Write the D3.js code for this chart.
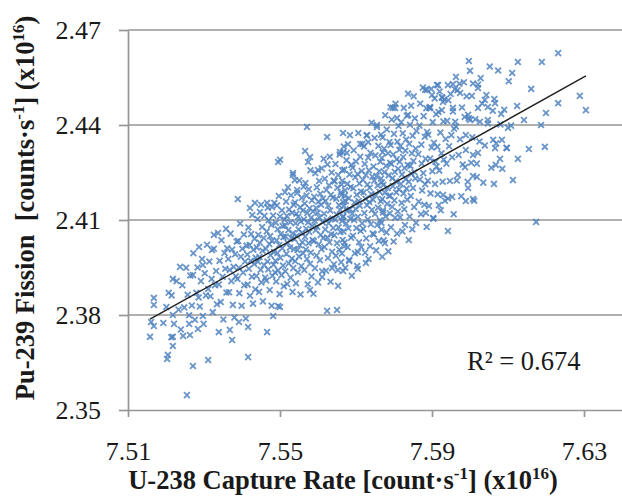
<!DOCTYPE html>
<html><head><meta charset="utf-8">
<script src="https://cdn.jsdelivr.net/npm/d3@7"></script>
<style>html,body{margin:0;padding:0;background:#fff;overflow:hidden}svg{display:block}</style>
</head><body>
<svg id="chart" width="622" height="502"></svg>
<script>
// ---------- data ----------
const xTicks = [7.51, 7.55, 7.59, 7.63];
const yTicks = [2.35, 2.38, 2.41, 2.44, 2.47];
const xDomain = [7.51, 7.65];
const yDomain = [2.35, 2.47];
const trendX = [7.5158, 7.6305];
const trendY = [2.3787, 2.4555];
const rSquaredLabel = "R\u00B2 = 0.674";
const xTitle = ["U-238 Capture Rate [count\u00B7s", "-1", "] (x10", "16", ")"];
const yTitle = ["Pu-239 Fission\u00A0 [counts\u00B7s", "-1", "] (x10", "16", ")"];

// individually readable (sparse) points
const sparsePoints = [
[7.5168,2.3854],[7.5168,2.3832],[7.5161,2.3778],[7.5168,2.3765],[7.5158,2.3731],[7.5218,2.3731],[7.5218,2.3702],[7.5205,2.3674],
[7.5203,2.3661],[7.5271,2.3639],[7.5311,2.3658],[7.5255,2.3547],[7.5416,2.3667],[7.5466,2.3746],[7.5374,2.3721],[7.5368,2.3753],
[7.5339,2.3746],[7.5416,2.3762],[7.5261,2.3772],[7.5284,2.3756],[7.5263,2.3737],[7.5245,2.3734],[7.5392,2.3778],[7.5482,2.3797],
[7.5297,2.3797],[7.5218,2.3800],[7.5495,2.3828],[7.5218,2.3914],[7.5287,2.4015],[7.5358,2.4072],[7.5326,2.4053],[7.5297,2.3958],
[7.5271,2.3926],[7.5321,2.4005],[7.5389,2.4166],[7.5495,2.4283],[7.5624,2.3813],[7.5650,2.3816],[7.5653,2.3892],[7.5611,2.3920],
[7.5637,2.3948],[7.5666,2.3939],[7.5682,2.3971],[7.5705,2.3945],[7.5726,2.3964],[7.5705,2.3999],[7.5776,2.4027],[7.5839,2.4037],
[7.5579,2.3879],[7.5500,2.3825],[7.5942,2.4065],[7.6174,2.4094],[7.6063,2.4214],[7.6113,2.4226],[7.5995,2.4201],[7.6008,2.4166],
[7.5989,2.4160],[7.5918,2.4147],[7.5953,2.4173],[7.5929,2.4179],[7.5884,2.4122],[7.5903,2.4106],[7.5571,2.4394],[7.5624,2.4362],
[7.5666,2.4375],[7.5684,2.4368],[7.5566,2.4318],[7.5579,2.4299],[7.5574,2.4283],[7.5534,2.4248],[7.5600,2.4258],[7.5711,2.4340],
[7.5729,2.4368],[7.5755,2.4400],[7.5732,2.4346],[7.5803,2.4454],[7.5887,2.4511],[7.5900,2.4495],[7.5895,2.4457],[7.5913,2.4526],
[7.5658,2.4315],[7.5676,2.4312],[7.5997,2.4602],[7.6126,2.4599],[7.6189,2.4599],[7.6232,2.4627],[7.6111,2.4564],[7.6161,2.4514],
[7.6289,2.4492],[7.6305,2.4447],[7.6232,2.4469],[7.6200,2.4438],[7.6124,2.4460],[7.6142,2.4416],[7.6187,2.4400],[7.6197,2.4331],
[7.6155,2.4324],[7.6126,2.4293],[7.6079,2.4293],[7.6100,2.4391],[7.6082,2.4435],[7.6021,2.4517],[7.5963,2.4552],[7.5882,2.4511],
[7.5916,2.4526],[7.5942,2.4526],[7.5955,2.4529],[7.5974,2.4501],[7.6005,2.4492],[7.6039,2.4479],[7.6066,2.4469],[7.5895,2.4454],
[7.5926,2.4447],[7.5955,2.4454],[7.5995,2.4432],[7.6021,2.4454],[7.6047,2.4457],[7.6097,2.4327],[7.6066,2.4327],[7.6084,2.4353],
[7.6061,2.4353],[7.6047,2.4416],[7.6026,2.4410],[7.5961,2.4410],[7.6021,2.4312],[7.6008,2.4305],[7.5987,2.4267],[7.5926,2.4488],
[7.5929,2.4473],[7.6018,2.4236],[7.5797,2.4454],[7.5808,2.4422],[7.5837,2.4432],[7.6000,2.4416],[7.5989,2.4368],[7.6068,2.4274],
[7.5968,2.4242],[7.6008,2.4239],[7.5500,2.4290],[7.5434,2.4154],[7.5466,2.4154],[7.5479,2.4141],[7.5421,2.4138],[7.5447,2.4125],
[7.5513,2.4188],[7.5545,2.4195],[7.5534,2.4242],[7.5539,2.4226]
];

// dense cloud
const densePoints = [
[7.5193,2.3775],[7.5201,2.3825],[7.5207,2.3870],[7.5214,2.3730],
[7.5215,2.3862],[7.5221,2.3772],[7.5228,2.3907],[7.5233,2.3817],[7.5237,2.3952],
[7.5239,2.3754],[7.5243,2.3894],[7.5248,2.3824],[7.5253,2.3949],[7.5257,2.3864],[7.5261,2.3799],
[7.5264,2.3925],[7.5268,2.3830],[7.5272,2.3995],[7.5276,2.3785],[7.5280,2.3870],[7.5283,2.3950],[7.5286,2.3855],
[7.5289,2.3827],[7.5292,2.3907],[7.5295,2.3977],[7.5299,2.3772],[7.5302,2.3932],[7.5305,2.3862],[7.5308,2.4022],[7.5311,2.3882],
[7.5314,2.3969],[7.5317,2.3859],[7.5320,2.3914],[7.5323,2.3809],[7.5326,2.4009],[7.5329,2.3894],[7.5332,2.3939],[7.5334,2.3834],[7.5337,2.4059],
[7.5339,2.3896],[7.5341,2.3971],[7.5344,2.3841],[7.5346,2.4036],[7.5349,2.3921],[7.5351,2.3786],[7.5354,2.3996],[7.5356,2.3946],[7.5359,2.3871],[7.5361,2.4011],
[7.5364,2.3977],[7.5366,2.3872],[7.5368,2.3942],[7.5370,2.4057],[7.5372,2.3907],[7.5374,2.4007],[7.5376,2.3832],[7.5378,2.3952],[7.5380,2.3792],[7.5382,2.3992],[7.5384,2.3922],[7.5386,2.4032],
[7.5388,2.3914],[7.5390,2.4034],[7.5392,2.3949],[7.5393,2.3869],[7.5395,2.4089],[7.5397,2.3984],[7.5399,2.3829],[7.5401,2.4009],[7.5403,2.3934],[7.5405,2.4054],[7.5406,2.3894],[7.5408,2.3969],[7.5410,2.3789],[7.5412,2.4019],
[7.5414,2.3991],[7.5415,2.3896],[7.5417,2.4076],[7.5418,2.3946],[7.5420,2.4021],[7.5421,2.3861],[7.5423,2.3971],[7.5424,2.4056],[7.5426,2.3921],[7.5427,2.4116],[7.5429,2.3836],[7.5430,2.4006],[7.5432,2.3961],[7.5433,2.4041],[7.5435,2.3881],[7.5436,2.3981],
[7.5438,2.3923],[7.5439,2.4013],[7.5441,2.4103],[7.5442,2.3968],[7.5443,2.4053],[7.5445,2.3873],[7.5446,2.3983],[7.5447,2.4028],[7.5449,2.3943],[7.5450,2.4148],[7.5451,2.3903],[7.5453,2.4078],[7.5454,2.4003],[7.5455,2.3843],[7.5457,2.4043],[7.5458,2.3958],[7.5459,2.4113],[7.5461,2.3918],
[7.5463,2.4009],[7.5464,2.3909],[7.5465,2.4064],[7.5467,2.3969],[7.5468,2.4139],[7.5469,2.3944],[7.5470,2.4099],[7.5472,2.4024],[7.5473,2.3879],[7.5474,2.4049],[7.5475,2.3989],[7.5477,2.4084],[7.5478,2.3829],[7.5479,2.4034],[7.5480,2.3924],[7.5482,2.4114],[7.5483,2.3959],[7.5484,2.3999],[7.5485,2.4154],[7.5487,2.3934],
[7.5488,2.3971],[7.5489,2.4091],[7.5490,2.3906],[7.5491,2.4036],[7.5492,2.4146],[7.5493,2.3996],[7.5494,2.4071],[7.5495,2.3941],[7.5497,2.4176],[7.5498,2.4021],[7.5499,2.3866],[7.5500,2.4111],[7.5501,2.3981],[7.5502,2.4056],[7.5504,2.3926],[7.5505,2.4131],[7.5506,2.4011],[7.5507,2.4081],[7.5508,2.3956],[7.5509,2.4046],[7.5510,2.3891],[7.5512,2.4101],
[7.5513,2.4083],[7.5514,2.3938],[7.5515,2.4048],[7.5516,2.4158],[7.5517,2.3993],[7.5518,2.4113],[7.5519,2.3898],[7.5520,2.4028],[7.5521,2.4203],[7.5522,2.4068],[7.5523,2.3963],[7.5524,2.4133],[7.5526,2.4013],[7.5527,2.4093],[7.5528,2.3918],[7.5529,2.4178],[7.5530,2.4043],[7.5531,2.3978],[7.5532,2.4123],[7.5533,2.3873],[7.5534,2.4058],[7.5535,2.3948],[7.5536,2.4148],[7.5537,2.4008],
[7.5538,2.4040],[7.5539,2.4155],[7.5540,2.3970],[7.5541,2.4090],[7.5542,2.3900],[7.5543,2.4120],[7.5544,2.4050],[7.5545,2.4185],[7.5546,2.4005],[7.5547,2.3935],[7.5548,2.4110],[7.5549,2.4070],[7.5550,2.3985],[7.5551,2.4225],[7.5552,2.4020],[7.5553,2.4140],[7.5554,2.3865],[7.5555,2.4095],[7.5556,2.3955],[7.5557,2.4170],[7.5558,2.4060],[7.5559,2.4030],[7.5560,2.4130],[7.5561,2.3995],[7.5562,2.4205],
[7.5563,2.4102],[7.5564,2.3942],[7.5565,2.4152],[7.5566,2.4047],[7.5567,2.4217],[7.5568,2.4007],[7.5569,2.4072],[7.5570,2.4177],[7.5571,2.3977],[7.5572,2.4122],[7.5573,2.3897],[7.5574,2.4092],[7.5575,2.4027],[7.5576,2.4197],[7.5577,2.4062],[7.5578,2.4137],[7.5579,2.3962],[7.5580,2.4257],[7.5581,2.3997],[7.5582,2.4107],[7.5583,2.3922],[7.5584,2.4162],[7.5585,2.4082],[7.5586,2.4037],[7.5587,2.4127],[7.5588,2.3867],
[7.5589,2.4033],[7.5590,2.4173],[7.5591,2.4098],[7.5592,2.3948],[7.5593,2.4248],[7.5594,2.4068],[7.5595,2.4138],[7.5596,2.3988],[7.5597,2.4203],[7.5598,2.4078],[7.5599,2.4123],[7.5600,2.3903],[7.5601,2.4158],[7.5602,2.4023],[7.5603,2.4223],[7.5604,2.4108],[7.5605,2.3973],[7.5606,2.4183],[7.5607,2.4053],[7.5608,2.4148],[7.5609,2.4008],[7.5610,2.4263],[7.5611,2.3938],[7.5612,2.4093],[7.5613,2.4168],[7.5614,2.4043],[7.5615,2.4293],
[7.5616,2.4120],[7.5617,2.4015],[7.5618,2.4230],[7.5619,2.4070],[7.5620,2.4160],[7.5621,2.3940],[7.5622,2.4195],[7.5623,2.4100],[7.5624,2.4045],[7.5625,2.4275],[7.5626,2.3980],[7.5627,2.4145],[7.5628,2.4090],[7.5629,2.4210],[7.5630,2.4030],[7.5631,2.4300],[7.5632,2.4130],[7.5633,2.3905],[7.5634,2.4180],[7.5635,2.4055],[7.5636,2.4250],[7.5637,2.4000],[7.5638,2.4105],[7.5639,2.4170],[7.5640,2.4075],[7.5641,2.4225],[7.5642,2.3960],
[7.5643,2.4052],[7.5644,2.4222],[7.5645,2.4102],[7.5646,2.4277],[7.5647,2.3987],[7.5648,2.4167],[7.5649,2.4117],[7.5650,2.4027],[7.5651,2.4202],[7.5652,2.3942],[7.5653,2.4242],[7.5654,2.4077],[7.5655,2.4147],[7.5656,2.4007],[7.5657,2.4307],[7.5658,2.4132],[7.5659,2.4062],[7.5660,2.4187],[7.5661,2.3967],[7.5662,2.4212],[7.5663,2.4097],[7.5664,2.4257],[7.5665,2.4037],[7.5666,2.4157],[7.5667,2.4112],[7.5668,2.4332],[7.5669,2.4017],[7.5670,2.4177],
[7.5662,2.4179],[7.5663,2.3994],[7.5664,2.4224],[7.5665,2.4109],[7.5666,2.4314],[7.5667,2.4064],[7.5668,2.4144],[7.5669,2.4259],[7.5670,2.4029],[7.5671,2.4194],[7.5672,2.3949],[7.5673,2.4159],[7.5674,2.4089],[7.5675,2.4289],[7.5676,2.4129],[7.5677,2.4214],[7.5678,2.4014],[7.5679,2.4339],[7.5680,2.4074],[7.5681,2.4169],[7.5682,2.3974],[7.5683,2.4244],[7.5684,2.4134],[7.5685,2.4104],[7.5686,2.4204],[7.5687,2.4044],[7.5688,2.4274],[7.5689,2.3924],
[7.5690,2.4120],[7.5691,2.4265],[7.5692,2.4050],[7.5693,2.4200],[7.5694,2.4320],[7.5695,2.4100],[7.5696,2.4155],[7.5697,2.3995],[7.5698,2.4235],[7.5699,2.4135],[7.5700,2.4285],[7.5701,2.4075],[7.5702,2.4180],[7.5703,2.3955],[7.5704,2.4245],[7.5705,2.4110],[7.5706,2.4375],[7.5707,2.4160],[7.5708,2.4030],[7.5709,2.4215],[7.5710,2.4145],[7.5711,2.4300],[7.5712,2.4065],[7.5713,2.4190],[7.5714,2.4015],[7.5715,2.4255],[7.5716,2.4090],[7.5717,2.4340],
[7.5718,2.4227],[7.5719,2.4072],[7.5720,2.4187],[7.5721,2.4332],[7.5722,2.4122],[7.5723,2.4277],[7.5724,2.3997],[7.5725,2.4167],[7.5726,2.4242],[7.5727,2.4042],[7.5728,2.4367],[7.5729,2.4147],[7.5730,2.4212],[7.5731,2.4102],[7.5732,2.4297],[7.5733,2.3977],[7.5734,2.4257],[7.5735,2.4157],[7.5736,2.4202],[7.5737,2.4017],[7.5738,2.4312],[7.5739,2.4087],[7.5740,2.4182],[7.5741,2.4407],[7.5742,2.4132],[7.5743,2.4237],[7.5744,2.4057],
[7.5745,2.4164],[7.5746,2.4269],[7.5747,2.4054],[7.5748,2.4224],[7.5749,2.4359],[7.5750,2.4119],[7.5751,2.4304],[7.5752,2.4179],[7.5753,2.4004],[7.5754,2.4239],[7.5755,2.4394],[7.5756,2.4084],[7.5757,2.4209],[7.5758,2.4139],[7.5759,2.4334],[7.5760,2.4034],[7.5761,2.4254],[7.5762,2.4189],[7.5763,2.4099],[7.5764,2.4284],[7.5765,2.4159],[7.5766,2.4369],[7.5767,2.4069],[7.5768,2.4219],[7.5769,2.3984],[7.5770,2.4314],[7.5771,2.4124],
[7.5766,2.4231],[7.5767,2.4091],[7.5768,2.4296],[7.5769,2.4166],[7.5770,2.4361],[7.5771,2.4131],[7.5772,2.4211],[7.5773,2.4036],[7.5774,2.4326],[7.5775,2.4251],[7.5776,2.4186],[7.5777,2.4431],[7.5778,2.4111],[7.5779,2.4271],[7.5780,2.4061],[7.5781,2.4386],[7.5782,2.4151],[7.5783,2.4201],[7.5784,2.4311],[7.5785,2.4001],[7.5786,2.4241],[7.5787,2.4176],[7.5788,2.4346],[7.5789,2.4121],[7.5790,2.4281],[7.5791,2.4456],
[7.5790,2.4177],[7.5791,2.4337],[7.5792,2.4077],[7.5793,2.4277],[7.5794,2.4417],[7.5795,2.4142],[7.5796,2.4232],[7.5797,2.4207],[7.5798,2.4307],[7.5799,2.4032],[7.5800,2.4372],[7.5801,2.4162],[7.5802,2.4252],[7.5803,2.4107],[7.5804,2.4467],[7.5805,2.4222],[7.5806,2.4187],[7.5807,2.4292],[7.5808,2.4057],[7.5809,2.4347],[7.5810,2.4127],[7.5811,2.4262],[7.5812,2.4397],[7.5813,2.4197],[7.5814,2.4322],
[7.5815,2.4284],[7.5816,2.4109],[7.5817,2.4334],[7.5818,2.4214],[7.5819,2.4409],[7.5820,2.4154],[7.5821,2.4244],[7.5822,2.4064],[7.5823,2.4374],[7.5824,2.4299],[7.5825,2.4184],[7.5826,2.4454],[7.5827,2.4134],[7.5828,2.4264],[7.5829,2.4084],[7.5830,2.4319],[7.5831,2.4229],[7.5832,2.4354],[7.5833,2.4199],[7.5834,2.4429],[7.5835,2.4164],[7.5836,2.4274],[7.5837,2.4499],
[7.5839,2.4221],[7.5840,2.4341],[7.5841,2.4111],[7.5842,2.4401],[7.5843,2.4271],[7.5844,2.4176],[7.5845,2.4461],[7.5846,2.4246],[7.5847,2.4311],[7.5848,2.4071],[7.5849,2.4366],[7.5850,2.4201],[7.5851,2.4286],[7.5852,2.4491],[7.5853,2.4141],[7.5854,2.4251],[7.5855,2.4421],[7.5856,2.4231],[7.5857,2.4326],[7.5858,2.4091],[7.5859,2.4381],
[7.5864,2.4308],[7.5865,2.4158],[7.5867,2.4398],[7.5868,2.4228],[7.5869,2.4468],[7.5871,2.4118],[7.5872,2.4338],[7.5873,2.4278],[7.5874,2.4193],[7.5876,2.4518],[7.5877,2.4248],[7.5878,2.4428],[7.5880,2.4148],[7.5881,2.4363],[7.5882,2.4213],[7.5883,2.4293],[7.5885,2.4453],[7.5886,2.4078],[7.5887,2.4378],
[7.5889,2.4224],[7.5890,2.4369],[7.5892,2.4144],[7.5893,2.4454],[7.5895,2.4294],[7.5896,2.4184],[7.5898,2.4514],[7.5899,2.4329],[7.5901,2.4254],[7.5902,2.4409],[7.5904,2.4104],[7.5905,2.4344],[7.5907,2.4484],[7.5908,2.4214],[7.5909,2.4284],[7.5911,2.4434],[7.5912,2.4269],
[7.5914,2.4331],[7.5915,2.4181],[7.5917,2.4441],[7.5919,2.4256],[7.5920,2.4506],[7.5922,2.4376],[7.5923,2.4131],[7.5925,2.4311],[7.5927,2.4486],[7.5928,2.4221],[7.5930,2.4411],[7.5931,2.4291],[7.5933,2.4481],[7.5934,2.4161],[7.5936,2.4356],
[7.5938,2.4278],[7.5940,2.4413],[7.5942,2.4168],[7.5943,2.4478],[7.5945,2.4333],[7.5947,2.4223],[7.5949,2.4498],[7.5951,2.4368],[7.5953,2.4298],[7.5955,2.4443],[7.5957,2.4118],[7.5958,2.4388],[7.5960,2.4513],
[7.5963,2.4395],[7.5965,2.4225],[7.5967,2.4510],[7.5970,2.4305],[7.5972,2.4530],[7.5974,2.4355],[7.5977,2.4175],[7.5979,2.4455],[7.5981,2.4275],[7.5984,2.4535],[7.5986,2.4425],
[7.5989,2.4321],[7.5991,2.4491],[7.5994,2.4221],[7.5997,2.4421],[7.6000,2.4571],[7.6003,2.4281],[7.6006,2.4361],[7.6008,2.4531],[7.6011,2.4161],
[7.6014,2.4418],[7.6018,2.4278],[7.6021,2.4528],[7.6025,2.4348],[7.6028,2.4548],[7.6032,2.4468],[7.6035,2.4218],
[7.6039,2.4335],[7.6043,2.4495],[7.6047,2.4405],[7.6052,2.4585],[7.6056,2.4265],[7.6060,2.4445],
[7.6064,2.4482],[7.6069,2.4342],[7.6074,2.4572],[7.6080,2.4402],[7.6085,2.4262],
[7.6090,2.4448],[7.6096,2.4328],[7.6102,2.4538],[7.6108,2.4398]
];

// ---------- drawing ----------
const svg = d3.select("#chart");
const serif = "'Liberation Serif','Times New Roman',Times,serif";
const gridColor = "#969696";
const markerColor = "#4f82c0";

const x = d3.scaleLinear().domain(xDomain).range([128, 660]);
const y = d3.scaleLinear().domain(yDomain).range([410, 30]);

// horizontal gridlines
svg.append("g").selectAll("line").data(yTicks.slice(1)).join("line")
  .attr("x1", x(xDomain[0])).attr("x2", x(xDomain[1]))
  .attr("y1", d => y(d)).attr("y2", d => y(d))
  .attr("stroke", gridColor).attr("stroke-width", 1.7);

// y axis
const gy = svg.append("g").attr("transform", `translate(${x(xDomain[0])},0)`)
  .call(d3.axisLeft(y).tickValues(yTicks).tickFormat(d3.format(".2f"))
    .tickSizeInner(9).tickSizeOuter(0).tickPadding(18));
// x axis
const gx = svg.append("g").attr("transform", `translate(0,${y(yDomain[0])})`)
  .call(d3.axisBottom(x).tickValues(xTicks).tickFormat(d3.format(".2f"))
    .tickSizeInner(7).tickSizeOuter(0).tickPadding(25));
[gx, gy].forEach(g => {
  g.select(".domain").attr("stroke", gridColor).attr("stroke-width", 1.7);
  g.selectAll(".tick line").attr("stroke", gridColor).attr("stroke-width", 1.7);
  g.selectAll(".tick text").attr("font-family", serif).attr("font-size", 26).attr("fill", "#1a1a1a");
});

// points
const allPoints = sparsePoints.concat(densePoints);
const s = 2.9;
svg.append("g").selectAll("path").data(allPoints).join("path")
  .attr("transform", d => `translate(${x(d[0])},${y(d[1])})`)
  .attr("d", `M${-s},${-s}L${s},${s}M${-s},${s}L${s},${-s}`)
  .attr("stroke", markerColor).attr("stroke-width", 1.8).attr("fill", "none")
  .attr("opacity", 0.85);

// trendline
svg.append("line")
  .attr("x1", x(trendX[0])).attr("y1", y(trendY[0]))
  .attr("x2", x(trendX[1])).attr("y2", y(trendY[1]))
  .attr("stroke", "#222").attr("stroke-width", 1.5);

// R^2 label
svg.append("text").attr("x", 467).attr("y", 370)
  .attr("font-family", serif).attr("font-size", 26.5).attr("fill", "#1a1a1a")
  .text(rSquaredLabel);

// titles with superscripts
function titleText(sel, parts) {
  parts.forEach((p, i) => {
    const sup = i % 2 === 1;
    sel.append("tspan")
      .attr("font-size", sup ? 17 : 26.5)
      .attr("dy", sup ? -10 : (i > 0 ? 10 : 0))
      .text(p);
  });
}
const xt = svg.append("text").attr("x", 343).attr("y", 489)
  .attr("text-anchor", "middle").attr("font-family", serif)
  .attr("font-weight", "bold").attr("font-size", 26.5).attr("fill", "#1a1a1a");
titleText(xt, xTitle);

const yt = svg.append("text").attr("transform", "translate(34,208) rotate(-90)")
  .attr("text-anchor", "middle").attr("font-family", serif)
  .attr("font-weight", "bold").attr("font-size", 26.5).attr("fill", "#1a1a1a");
titleText(yt, yTitle);
</script>
</body></html>
